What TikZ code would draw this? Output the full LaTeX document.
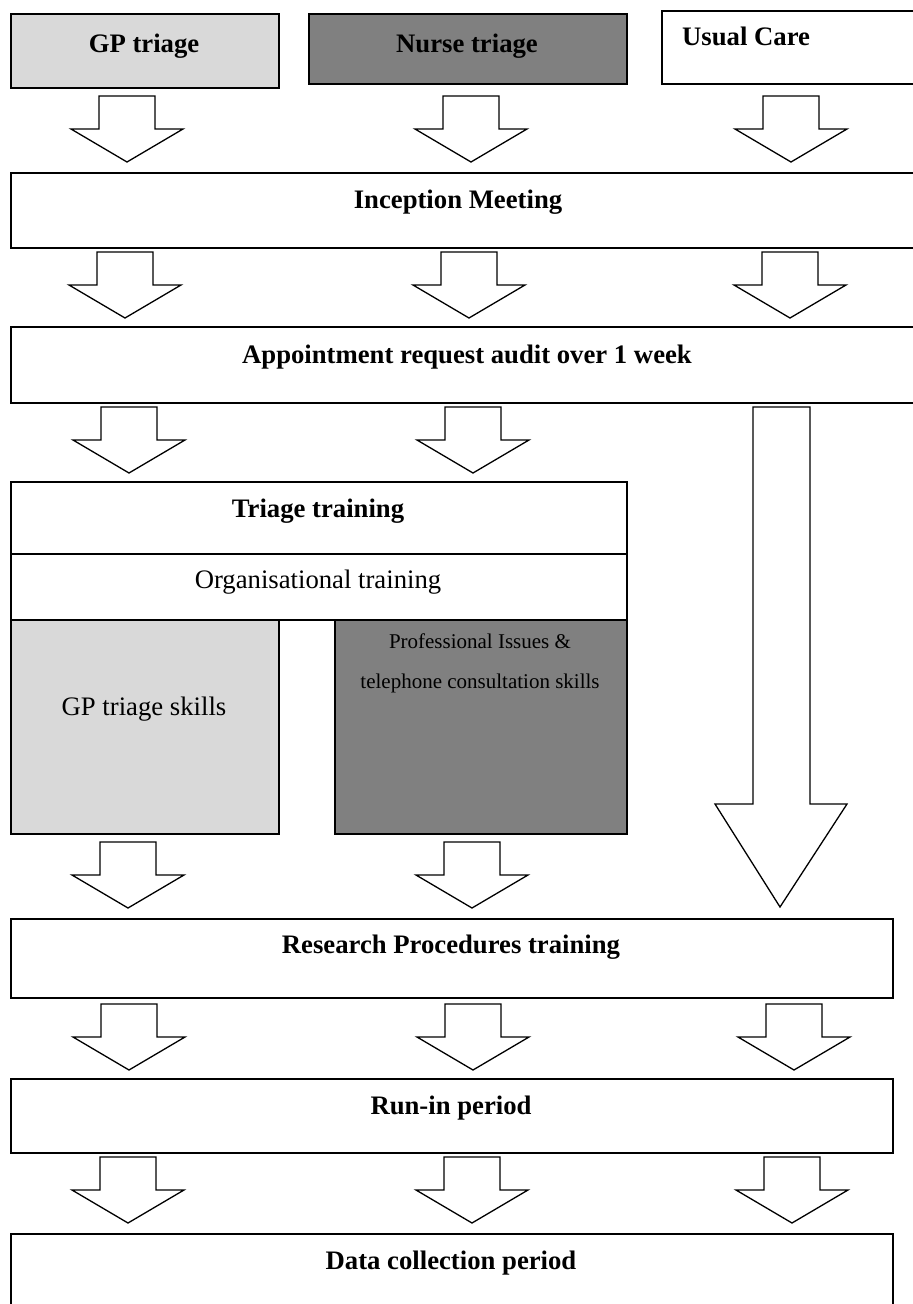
\documentclass[tikz,border=0pt]{standalone}
\usepackage{fontspec}
\setmainfont{Liberation Serif}
\usetikzlibrary{calc}

\definecolor{gpgray}{HTML}{D9D9D9}
\definecolor{nursegray}{HTML}{808080}

\tikzset{
    stage/.style={draw=black, line width=1.8pt, rectangle, inner sep=0pt, anchor=north west},
    boldtext/.style={font=\fontsize{26.7}{30}\selectfont\bfseries, inner sep=0pt, anchor=base},
    plaintext/.style={font=\fontsize{26.7}{30}\selectfont, inner sep=0pt, anchor=base},
    smalltext/.style={font=\fontsize{21}{25}\selectfont, inner sep=0pt, anchor=base},
    arrowline/.style={draw=black, fill=white, line width=1.3pt, line join=miter},
    flowarrow/.pic={
        \draw [arrowline] (-28,0) -- (28,0) -- (28,33) -- (56,33) -- (0,66)
            -- (-56,33) -- (-28,33) -- cycle;
    }
}

\begin{document}
\begin{tikzpicture}[x=1pt, y=-1pt]
    \useasboundingbox (0,0) rectangle (913,1304);
    \clip (0,0) rectangle (913,1304);

    % the three arms
    \node [stage, fill=gpgray, minimum width=268pt, minimum height=74pt] (gp) at (10,13) {};
    \node [boldtext] at (144,52) {GP triage};
    \node [stage, fill=nursegray, minimum width=318pt, minimum height=70pt] (nurse) at (308,13) {};
    \node [boldtext] at (467,52) {Nurse triage};
    \node [stage, fill=white, minimum width=270pt, minimum height=73pt] (usual) at (661,10) {};
    \node [boldtext, anchor=base west] at (682,45) {Usual Care};

    \pic at (127,96) {flowarrow};
    \pic at (471,96) {flowarrow};
    \pic at (791,96) {flowarrow};

    % common stages
    \node [stage, minimum width=920pt, minimum height=75pt] (inception) at (10,172) {};
    \node [boldtext] at (458,208) {Inception Meeting};

    \pic at (125,252) {flowarrow};
    \pic at (469,252) {flowarrow};
    \pic at (790,252) {flowarrow};

    \node [stage, minimum width=920pt, minimum height=76pt] (audit) at (10,326) {};
    \node [boldtext] at (467,363) {Appointment request audit over 1 week};

    \pic at (129,407) {flowarrow};
    \pic at (473,407) {flowarrow};

    % usual care skips the training
    \draw [arrowline] (753,407) -- (810,407) -- (810,804) -- (847,804) -- (780,907)
        -- (715,804) -- (753,804) -- cycle;

    % training
    \node [stage, minimum width=616pt, minimum height=72pt] (triage) at (10,481) {};
    \node [boldtext] at (318,517) {Triage training};
    \node [stage, minimum width=616pt, minimum height=66pt] (organisational) at (10,553) {};
    \node [plaintext] at (318,588) {Organisational training};
    \node [stage, fill=gpgray, minimum width=268pt, minimum height=214pt] (gpskills) at (10,619) {};
    \node [plaintext] at (144,715) {GP triage skills};
    \node [stage, fill=nursegray, minimum width=292pt, minimum height=214pt] (profskills) at (334,619) {};
    \node [smalltext] at (480,648) {Professional Issues \&};
    \node [smalltext] at (480,688) {telephone consultation skills};

    \pic at (128,842) {flowarrow};
    \pic at (472,842) {flowarrow};

    \node [stage, minimum width=882pt, minimum height=79pt] (research) at (10,918) {};
    \node [boldtext] at (451,953) {Research Procedures training};

    \pic at (129,1004) {flowarrow};
    \pic at (473,1004) {flowarrow};
    \pic at (794,1004) {flowarrow};

    \node [stage, minimum width=882pt, minimum height=74pt] (runin) at (10,1078) {};
    \node [boldtext] at (451,1114) {Run-in period};

    \pic at (128,1157) {flowarrow};
    \pic at (472,1157) {flowarrow};
    \pic at (792,1157) {flowarrow};

    \node [stage, minimum width=882pt, minimum height=90pt] (datacoll) at (10,1233) {};
    \node [boldtext] at (451,1269) {Data collection period};
\end{tikzpicture}
\end{document}
